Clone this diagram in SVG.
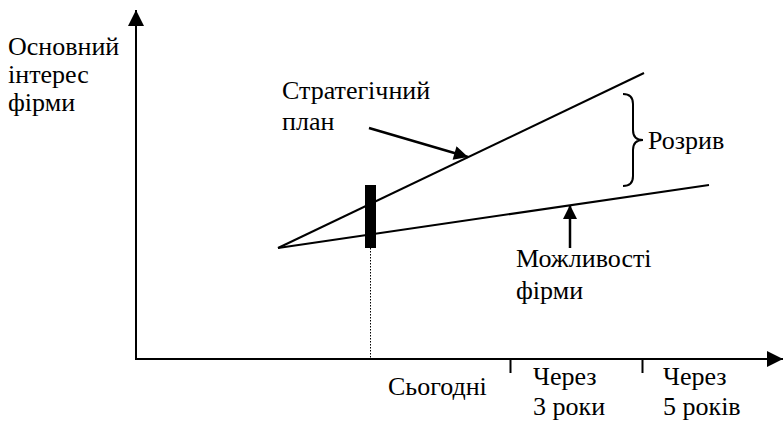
<svg xmlns="http://www.w3.org/2000/svg" width="784" height="421" viewBox="0 0 784 421">
<defs>
<marker id="ax" viewBox="0 0 10 10" refX="10" refY="5" markerWidth="16" markerHeight="16" markerUnits="userSpaceOnUse" orient="auto">
<path d="M0,0 L10,5 L0,10 z" fill="#000"/>
</marker>
<marker id="sa" viewBox="0 0 10 10" refX="10" refY="5" markerWidth="16" markerHeight="14" markerUnits="userSpaceOnUse" orient="auto">
<path d="M0,0 L10,5 L0,10 z" fill="#000"/>
</marker>
</defs>
<style>
.ln{stroke:#000;stroke-width:2;fill:none}
.cn{stroke:#000;stroke-width:2.5;fill:none}
</style>
<rect width="784" height="421" fill="#fff"/>
<g id="axes">
<line class="ln" x1="136" y1="360" x2="136" y2="10" marker-end="url(#ax)"/>
<line class="ln" x1="135" y1="359" x2="783" y2="359" marker-end="url(#ax)"/>
<line class="ln" x1="510.5" y1="359" x2="510.5" y2="373"/>
<line class="ln" x1="642.5" y1="359" x2="642.5" y2="373"/>
<line x1="370.5" y1="248" x2="370.5" y2="358" stroke="#000" stroke-width="1" stroke-dasharray="1.5,1.5"/>
</g>
<g id="y-label">
<text x="8" y="55" style="font-family:'Liberation Serif',serif;font-size:26px">Основний</text>
<text x="8" y="83" style="font-family:'Liberation Serif',serif;font-size:26px">інтерес</text>
<text x="8" y="111" style="font-family:'Liberation Serif',serif;font-size:26px">фірми</text>
</g>
<g id="lines">
<line class="ln" x1="278" y1="248" x2="644" y2="73"/>
<line class="ln" x1="278" y1="248" x2="709" y2="185"/>
<rect x="365" y="185" width="11" height="63" fill="#000"/>
</g>
<g id="connectors">
<line class="cn" x1="369" y1="128" x2="468" y2="157" marker-end="url(#sa)"/>
<line class="cn" x1="570" y1="248" x2="570" y2="205" marker-end="url(#sa)"/>
</g>
<g id="brace">
<path class="ln" d="M623,94 Q633,94 633,104 L633,130 Q633,140 643,140 Q633,140 633,150 L633,176 Q633,186 623,186"/>
</g>
<g id="labels">
<text x="282" y="99" style="font-family:'Liberation Serif',serif;font-size:26px">Стратегічний</text>
<text x="282" y="130" style="font-family:'Liberation Serif',serif;font-size:26px">план</text>
<text x="648" y="149" style="font-family:'Liberation Serif',serif;font-size:26px">Розрив</text>
<text x="516" y="267" style="font-family:'Liberation Serif',serif;font-size:26px">Можливості</text>
<text x="516" y="299" style="font-family:'Liberation Serif',serif;font-size:26px">фірми</text>
<text x="388" y="395" style="font-family:'Liberation Serif',serif;font-size:26px">Сьогодні</text>
<text x="533" y="385" style="font-family:'Liberation Serif',serif;font-size:26px">Через</text>
<text x="533" y="415" style="font-family:'Liberation Serif',serif;font-size:26px">3 роки</text>
<text x="663" y="385" style="font-family:'Liberation Serif',serif;font-size:26px">Через</text>
<text x="663" y="415" style="font-family:'Liberation Serif',serif;font-size:26px">5 років</text>
</g>
</svg>
